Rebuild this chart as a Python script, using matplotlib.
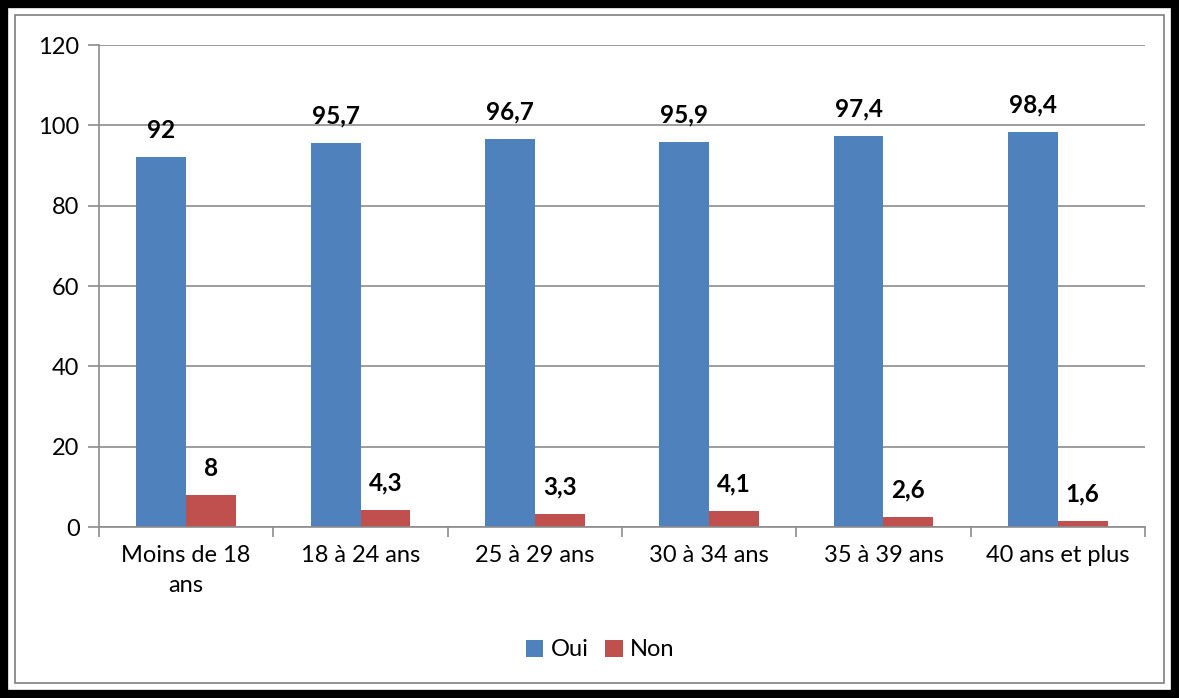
import matplotlib.pyplot as plt
import matplotlib.patches as patches
import numpy as np

plt.rcParams['font.family'] = ['Lato', 'DejaVu Sans']

categories = ['Moins de 18\nans', '18 à 24 ans', '25 à 29 ans', '30 à 34 ans', '35 à 39 ans', '40 ans et plus']
oui = [92, 95.7, 96.7, 95.9, 97.4, 98.4]
non = [8, 4.3, 3.3, 4.1, 2.6, 1.6]

blue = '#4F81BD'
red = '#C0504D'
grid_color = '#8C8C8C'

fig = plt.figure(figsize=(11.79, 6.98), dpi=100)
W, H = 1179, 698
ax = fig.add_axes([99 / W, 1 - 527 / H, (1145 - 99) / W, (527 - 45) / H])

x = np.arange(len(categories))
bw = 0.285
ax.bar(x - bw / 2, oui, bw, color=blue, label='Oui')
ax.bar(x + bw / 2, non, bw, color=red, label='Non')

def fmt(v):
    return ('%g' % v).replace('.', ',')

for xi, v in zip(x, oui):
    ax.annotate(fmt(v), (xi - bw / 2, v), xytext=(0, 11), textcoords='offset points',
                ha='center', va='bottom', fontsize=17.5, fontweight='bold')
for xi, v in zip(x, non):
    ax.annotate(fmt(v), (xi + bw / 2, v), xytext=(0, 11), textcoords='offset points',
                ha='center', va='bottom', fontsize=17.5, fontweight='bold')

ax.set_xlim(-0.5, len(categories) - 0.5)
ax.set_ylim(0, 120)
ax.set_yticks(range(0, 121, 20))
ax.yaxis.grid(True, color=grid_color, linewidth=1.2)
ax.set_axisbelow(True)

ax.set_xticks(x)
ax.set_xticklabels(categories, fontsize=17, linespacing=1.55)
ax.set_xticks(np.arange(-0.5, len(categories), 1), minor=True)
ax.tick_params(axis='x', which='major', length=0, pad=13)
ax.tick_params(axis='x', which='minor', length=7, color=grid_color, width=1.2)
ax.tick_params(axis='y', length=8, color=grid_color, width=1.2, labelsize=17, pad=6)

for s in ['top', 'right']:
    ax.spines[s].set_visible(False)
for s in ['left', 'bottom']:
    ax.spines[s].set_color(grid_color)
    ax.spines[s].set_linewidth(1.2)

ax.legend(loc='center', bbox_to_anchor=(0.479, -0.255), ncol=2, frameon=False,
          fontsize=17, handlelength=0.75, handleheight=0.75, handletextpad=0.3,
          columnspacing=0.7)

# outer frame
fig.patches.append(patches.Rectangle((4 / W, 4 / H), 1 - 8 / W, 1 - 8 / H,
                                     transform=fig.transFigure, fill=False,
                                     edgecolor='black', linewidth=6))
fig.patches.append(patches.Rectangle((15 / W, 15 / H), 1 - 30 / W, 1 - 30 / H,
                                     transform=fig.transFigure, fill=False,
                                     edgecolor='#7F7F7F', linewidth=1.2))

fig.savefig('out.png', dpi=100, facecolor='white')
